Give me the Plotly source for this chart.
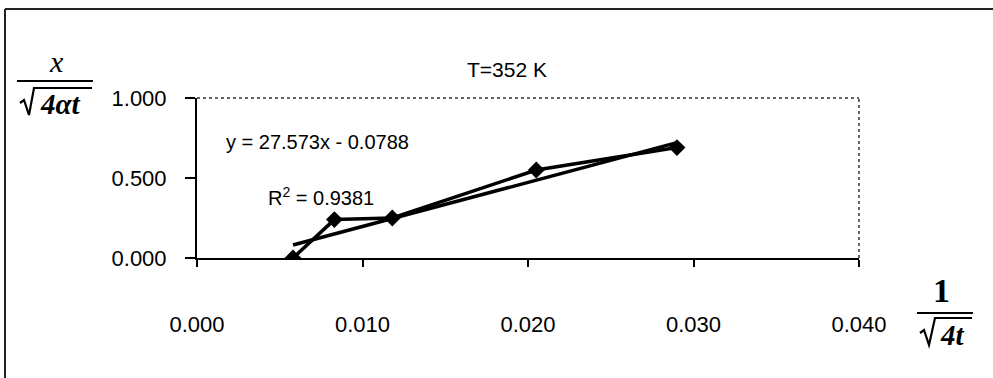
import plotly.graph_objects as go

# ---- data ----
x_vals = [0.0058, 0.0083, 0.0118, 0.0205, 0.0290]
y_vals = [0.000, 0.240, 0.250, 0.550, 0.690]
slope = 27.573
intercept = -0.0788
r2 = 0.9381
x_ticks = [0.000, 0.010, 0.020, 0.030, 0.040]
y_ticks = [0.000, 0.500, 1.000]
title_text = "T=352 K"

trend_x = [min(x_vals), max(x_vals)]
trend_y = [slope * v + intercept for v in trend_x]

L, R, T, B = 197, 134, 98, 120
W, H = 993, 378
pw, ph = W - L - R, H - T - B


def px(xp):
    return (xp - L) / pw


def py(yp):
    return (H - B - yp) / ph


fig = go.Figure()
fig.add_trace(go.Scatter(x=x_vals, y=y_vals, mode="lines+markers",
                         line=dict(color="black", width=3.5),
                         marker=dict(symbol="diamond", size=13, color="black"),
                         showlegend=False))
fig.add_trace(go.Scatter(x=trend_x, y=trend_y, mode="lines",
                         line=dict(color="black", width=3.5),
                         showlegend=False))

font_sans = "Liberation Sans, Arial, sans-serif"
font_serif = "Liberation Serif, Times New Roman, serif"

fig.update_layout(
    width=W, height=H,
    margin=dict(l=L, r=R, t=T, b=B),
    paper_bgcolor="white", plot_bgcolor="white",
    font=dict(family=font_sans, color="black", size=22),
    xaxis=dict(range=[0, 0.04], tickvals=x_ticks,
               ticktext=[f"{v:.3f}" for v in x_ticks],
               showline=True, linecolor="black", linewidth=2,
               ticks="outside", ticklen=7, tickwidth=1.5, tickcolor="black",
               showgrid=False, zeroline=False, ticklabelstandoff=39,
               tickfont=dict(size=22, family=font_sans)),
    yaxis=dict(range=[0, 1], tickvals=y_ticks,
               ticktext=[f"{v:.3f}" for v in y_ticks],
               showline=True, linecolor="black", linewidth=2,
               ticks="outside", ticklen=10, tickwidth=1.5, tickcolor="black",
               showgrid=False, zeroline=False, ticklabelstandoff=14,
               tickfont=dict(size=22, family=font_sans)),
)


def note(text, xp, yp, size, family, xanchor="center"):
    return dict(text=text, x=px(xp), y=py(yp), xref="paper", yref="paper",
                xanchor=xanchor, yanchor="middle", showarrow=False,
                font=dict(size=size, family=family, color="black"))


ann = [
    note(title_text, 507, 69, 21, font_sans),
    note(f"y = {slope}x - {abs(intercept)}", 224, 142, 20, font_sans, "left"),
    note(f"R<sup>2</sup> = {r2}", 266, 196, 20, font_sans, "left"),
    # y-axis label fraction
    note("<i>x</i>", 56, 62, 30, font_serif),
    note("<b><i>4αt</i></b>", 60, 104, 29, font_serif),
    # x-axis label fraction
    note("<b>1</b>", 941, 290, 34, font_serif),
    note("<b><i>4t</i></b>", 952, 335, 29, font_serif),
]
fig.update_layout(annotations=ann)


def path(pts):
    d = "M " + " L ".join(f"{px(a):.5f},{py(b):.5f}" for a, b in pts)
    return dict(type="path", xref="paper", yref="paper", path=d,
                line=dict(color="black", width=2.2))


shapes = []
# fraction bars
shapes.append(dict(type="line", xref="paper", yref="paper", x0=px(17), x1=px(93),
                   y0=py(81), y1=py(81), line=dict(color="black", width=2)))
shapes.append(dict(type="line", xref="paper", yref="paper", x0=px(917), x1=px(973),
                   y0=py(313), y1=py(313), line=dict(color="black", width=2)))
# radicals
shapes.append(path([(20, 103), (24, 100), (29, 115), (34, 88), (92, 88)]))
shapes.append(path([(920, 333), (924, 330), (929, 345), (935, 318), (972, 318)]))
# plot area top/right borders (dotted)
shapes.append(dict(type="line", xref="paper", yref="paper", x0=0, x1=1, y0=1, y1=1,
                   line=dict(color="#333", width=1.5, dash="dot")))
shapes.append(dict(type="line", xref="paper", yref="paper", x0=1, x1=1, y0=0, y1=1,
                   line=dict(color="#333", width=1.5, dash="dot")))
# outer frame (top and left)
shapes.append(dict(type="line", xref="paper", yref="paper", x0=px(5), x1=px(993),
                   y0=py(9), y1=py(9), line=dict(color="#222", width=2)))
shapes.append(dict(type="line", xref="paper", yref="paper", x0=px(5), x1=px(5),
                   y0=py(9), y1=py(378), line=dict(color="#222", width=2)))
fig.update_layout(shapes=shapes)

fig.write_html("out.html")
